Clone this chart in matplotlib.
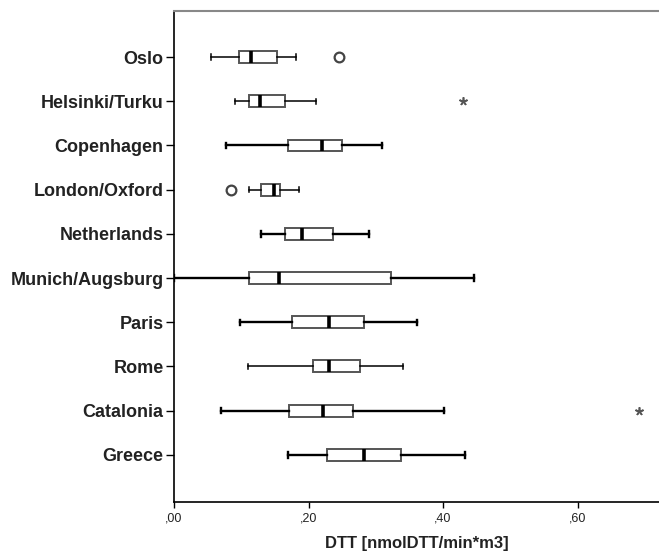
import matplotlib
matplotlib.use("Agg")
import matplotlib.pyplot as plt

cities = ["Oslo", "Helsinki/Turku", "Copenhagen", "London/Oxford", "Netherlands",
          "Munich/Augsburg", "Paris", "Rome", "Catalonia", "Greece"]
whislo = [0.055, 0.090, 0.077, 0.112, 0.130, 0.000, 0.098, 0.110, 0.070, 0.169]
q1     = [0.096, 0.112, 0.170, 0.130, 0.165, 0.112, 0.176, 0.206, 0.171, 0.228]
med    = [0.115, 0.128, 0.220, 0.149, 0.191, 0.156, 0.230, 0.231, 0.221, 0.283]
q3     = [0.153, 0.165, 0.250, 0.157, 0.236, 0.323, 0.282, 0.276, 0.266, 0.337]
whishi = [0.182, 0.211, 0.309, 0.186, 0.290, 0.446, 0.361, 0.341, 0.401, 0.432]
out_circle = {"Oslo": [0.245], "London/Oxford": [0.085]}
out_star = {"Helsinki/Turku": [0.430], "Catalonia": [0.691]}
xticks = [0.0, 0.2, 0.4, 0.6]
xticklabels = [",00", ",20", ",40", ",60"]

plt.rcParams['font.family'] = ['Liberation Sans', 'DejaVu Sans']

fig = plt.figure(figsize=(6.59, 5.51), dpi=100)
ax = fig.add_axes([174/659, 1-501.7/551, (659-174)/659, (501.7-10.7)/551])

stats = []
for i, c in enumerate(cities):
    stats.append(dict(label=c, whislo=whislo[i], q1=q1[i], med=med[i], q3=q3[i],
                      whishi=whishi[i], fliers=[]))
positions = list(range(1, len(cities) + 1))
thin = {"Oslo", "Helsinki/Turku", "London/Oxford", "Rome"}
for i, s in enumerate(stats):
    lw = 1.1 if cities[i] in thin else 1.7
    ax.bxp([s], positions=[positions[i]], vert=False, widths=0.27, patch_artist=True,
           showfliers=False,
           boxprops=dict(facecolor="white", edgecolor="#555555", linewidth=1.4),
           medianprops=dict(color="black", linewidth=2.6),
           whiskerprops=dict(color="black", linewidth=lw),
           capprops=dict(color="black", linewidth=lw),
           capwidths=0.12)

for c, vals in out_circle.items():
    y = positions[cities.index(c)]
    ax.plot(vals, [y]*len(vals), linestyle="none", marker="o", markersize=7,
            markerfacecolor="white", markeredgecolor="#444444", markeredgewidth=1.6)
for c, vals in out_star.items():
    y = positions[cities.index(c)]
    ax.plot(vals, [y]*len(vals), linestyle="none", marker=(5, 2, 0), markersize=6,
            color="#555555", markeredgewidth=1.2)

ax.set_xlim(0, (659-174)/672.5)
ax.set_ylim(len(cities) + 1.06, 1 - 1.05)
ax.set_yticks(positions)
ax.set_yticklabels(cities, fontsize=13, fontweight="bold", color="#222222")
ax.set_xticks(xticks)
ax.set_xticklabels(xticklabels, fontsize=9, color="#222222")
ax.set_xlabel("DTT [nmolDTT/min*m3]", fontsize=12, fontweight="bold", labelpad=8,
              color="#222222")

ax.spines["right"].set_visible(False)
ax.spines["top"].set_color("#888888")
ax.spines["top"].set_linewidth(1.5)
ax.spines["left"].set_linewidth(1.2)
ax.spines["bottom"].set_linewidth(1.2)
ax.tick_params(axis="y", length=6, width=1.0, pad=1.5)
ax.tick_params(axis="x", length=4, width=1.0, pad=4)

fig.savefig("out.png", dpi=100)
